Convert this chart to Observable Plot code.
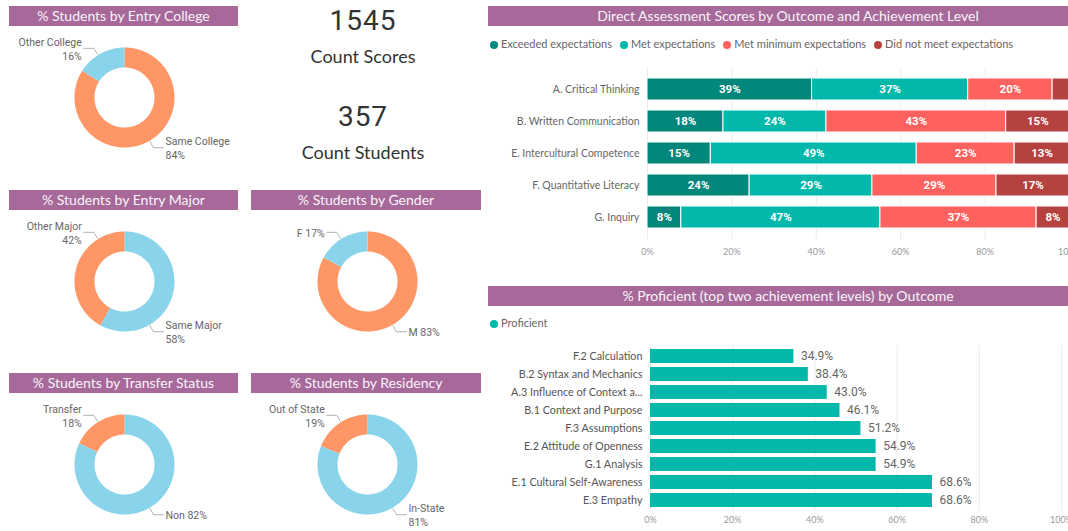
<!DOCTYPE html>
<html><head><meta charset="utf-8">
<script src="https://cdn.jsdelivr.net/npm/d3@7"></script>
<script src="https://cdn.jsdelivr.net/npm/@observablehq/plot@0.6"></script>
<style>
html,body{margin:0;padding:0;background:#fff;overflow:hidden;width:1068px;height:531px;}
#root{position:relative;width:1068px;height:531px;overflow:hidden;font-family:"Segoe UI",Lato,sans-serif;}
#root svg{max-width:none !important;overflow:visible;}
.tb{position:absolute;height:20px;line-height:20px;background:#A66999;color:#fbf3f9;text-align:center;font-size:14px;white-space:nowrap;overflow:hidden;}
.box{position:absolute;}
.num{position:absolute;left:263px;width:200px;text-align:center;color:#333;white-space:nowrap;}
.big{font-family:Roboto,sans-serif;font-size:28px;line-height:28px;letter-spacing:1px;}
.cap{font-family:"Segoe UI",Lato,sans-serif;font-size:18px;line-height:18px;}
.legend{position:absolute;font-size:11px;color:#666;white-space:nowrap;line-height:14px;}
.legend span{margin-right:8px;}
.legend i{display:inline-block;width:8px;height:8px;border-radius:50%;margin-right:3px;vertical-align:-0.5px;}
g[aria-label^="x-axis"] text{fill:#9a9a9a;font-size:9px;}
</style>
</head><body>
<div id="root"></div>
<script>
// ---------- data ----------
const collegeLabels = ["Same College", "Other College"];
const collegeValues = [0.84, 0.16];
const majorLabels = ["Same Major", "Other Major"];
const majorValues = [0.58, 0.42];
const genderLabels = ["M", "F"];
const genderValues = [0.83, 0.17];
const transferLabels = ["Non", "Transfer"];
const transferValues = [0.82, 0.18];
const residencyLabels = ["In-State", "Out of State"];
const residencyValues = [0.81, 0.19];

const countScores = 1545;
const countStudents = 357;

const outcomes = ["A. Critical Thinking", "B. Written Communication", "E. Intercultural Competence", "F. Quantitative Literacy", "G. Inquiry"];
const levels = ["Exceeded expectations", "Met expectations", "Met minimum expectations", "Did not meet expectations"];
const exceeded = [0.39, 0.18, 0.15, 0.242, 0.08];
const met = [0.37, 0.244, 0.488, 0.291, 0.472];
const metMin = [0.20, 0.426, 0.232, 0.294, 0.37];
const didNot = [0.04, 0.15, 0.13, 0.173, 0.078];

const subOutcomes = ["F.2 Calculation", "B.2 Syntax and Mechanics", "A.3 Influence of Context a...", "B.1 Context and Purpose", "F.3 Assumptions", "E.2 Attitude of Openness", "G.1 Analysis", "E.1 Cultural Self-Awareness", "E.3 Empathy"];
const proficient = [0.349, 0.384, 0.430, 0.461, 0.512, 0.549, 0.549, 0.686, 0.686];

const titles = {
  college: "% Students by Entry College",
  major: "% Students by Entry Major",
  gender: "% Students by Gender",
  transfer: "% Students by Transfer Status",
  residency: "% Students by Residency",
  direct: "Direct Assessment Scores by Outcome and Achievement Level",
  prof: "% Proficient (top two achievement levels) by Outcome"
};

// ---------- styles ----------
const ORANGE = "#FE9666", BLUE = "#8AD4EB";
const levelColors = ["#03867B", "#01B8AA", "#FD625E", "#B5423F"];
const TEAL = "#01B8AA";
const pct0 = d3.format(".0%"), pct1 = d3.format(".1%");

const root = document.getElementById("root");
function place(el, left, top, width) {
  const d = document.createElement("div");
  d.className = "box";
  d.style.left = left + "px"; d.style.top = top + "px";
  if (width) d.style.width = width + "px";
  d.appendChild(el);
  root.appendChild(d);
  return d;
}
function titleBar(text, left, top, width) {
  const d = document.createElement("div");
  d.className = "tb";
  d.style.left = left + "px"; d.style.top = top + "px"; d.style.width = width + "px";
  d.textContent = text;
  root.appendChild(d);
}
function numText(text, cls, top) {
  const d = document.createElement("div");
  d.className = "num " + cls;
  d.style.top = top + "px";
  d.textContent = text;
  root.appendChild(d);
}

// ---------- donut ----------
function donutPlot(labels, values, colors) {
  const total = d3.sum(values);
  const slices = [];
  let acc = 0;
  labels.forEach((name, i) => {
    const a0 = acc / total * 2 * Math.PI;
    acc += values[i];
    const a1 = acc / total * 2 * Math.PI;
    slices.push({name, value: values[i], a0, a1});
  });
  const R = 1, r = 0.6, stepA = Math.PI / 180;
  const ring = [];
  for (const s of slices) {
    const n = Math.max(2, Math.ceil((s.a1 - s.a0) / stepA));
    for (let k = 0; k <= n; k++) {
      const a = s.a0 + (s.a1 - s.a0) * k / n;
      ring.push({name: s.name, x: R * Math.sin(a), y: R * Math.cos(a)});
    }
    for (let k = n; k >= 0; k--) {
      const a = s.a0 + (s.a1 - s.a0) * k / n;
      ring.push({name: s.name, x: r * Math.sin(a), y: r * Math.cos(a)});
    }
  }
  const leaders = [], texts = [];
  for (const s of slices) {
    const mid = (s.a0 + s.a1) / 2;
    const pref = (Math.sin(mid) >= 0 ? 150 : 328) * Math.PI / 180;
    const th = Math.max(s.a0 + 0.05, Math.min(s.a1 - 0.05, pref));
    const side = Math.sin(th) >= 0 ? 1 : -1;
    const p0 = [1.02 * Math.sin(th), 1.02 * Math.cos(th)];
    const p1 = [1.16 * Math.sin(th), 1.16 * Math.cos(th)];
    const p2 = [p1[0] + side * 0.2, p1[1]];
    for (const p of [p0, p1, p2]) leaders.push({name: s.name, x: p[0], y: p[1]});
    const share = pct0(s.value / total);
    texts.push({
      side, x: p2[0] + side * 0.04, y: p2[1],
      text: s.name.length > 3 ? s.name + "\n" + share : s.name + " " + share
    });
  }
  return Plot.plot({
    width: 230, height: 130, margin: 0,
    x: {domain: [-2.3, 2.3], axis: null},
    y: {domain: [-1.3, 1.3], axis: null},
    color: {domain: labels, range: colors},
    style: {fontFamily: "Roboto, sans-serif", fontSize: "10.5px", background: "transparent", overflow: "visible"},
    marks: [
      Plot.line(ring, {x: "x", y: "y", z: "name", fill: "name", stroke: "none", curve: "linear-closed"}),
      Plot.line(leaders, {x: "x", y: "y", z: "name", stroke: "#b0b0b0", strokeWidth: 1}),
      Plot.text(texts.filter(t => t.side > 0), {x: "x", y: "y", text: "text", textAnchor: "start", fill: "#666", lineHeight: 1.3}),
      Plot.text(texts.filter(t => t.side < 0), {x: "x", y: "y", text: "text", textAnchor: "end", fill: "#666", lineHeight: 1.3})
    ]
  });
}

// ---------- left column ----------
titleBar(titles.college, 9, 6, 229);
place(donutPlot(collegeLabels, collegeValues, [ORANGE, BLUE]), 9, 32, 230);

numText(String(countScores), "big", 7);
numText("Count Scores", "cap", 47);
numText(String(countStudents), "big", 103);
numText("Count Students", "cap", 143);

titleBar(titles.major, 9, 190, 229);
place(donutPlot(majorLabels, majorValues, [BLUE, ORANGE]), 9, 216, 230);
titleBar(titles.gender, 251, 190, 230);
place(donutPlot(genderLabels, genderValues, [ORANGE, BLUE]), 252, 216, 230);

titleBar(titles.transfer, 9, 373, 229);
place(donutPlot(transferLabels, transferValues, [BLUE, ORANGE]), 9, 399, 230);
titleBar(titles.residency, 251, 373, 230);
place(donutPlot(residencyLabels, residencyValues, [BLUE, ORANGE]), 252, 399, 230);

// ---------- direct assessment (stacked) ----------
titleBar(titles.direct, 488, 6, 600);
const lg = document.createElement("div");
lg.className = "legend";
lg.style.left = "490px"; lg.style.top = "37px";
levels.forEach((l, i) => {
  const s = document.createElement("span");
  const dot = document.createElement("i");
  dot.style.background = levelColors[i];
  s.appendChild(dot);
  s.appendChild(document.createTextNode(l));
  lg.appendChild(s);
});
root.appendChild(lg);

const levelValues = [exceeded, met, metMin, didNot];
const stackData = [];
outcomes.forEach((o, i) => levels.forEach((l, j) => stackData.push({outcome: o, level: l, value: levelValues[j][i]})));
const xticks = [0, 0.2, 0.4, 0.6, 0.8, 1];

const direct = Plot.plot({
  width: 601, height: 210,
  marginLeft: 159, marginRight: 20, marginTop: 7, marginBottom: 30,
  x: {domain: [0, 1], ticks: xticks, tickFormat: pct0, tickSize: 0, tickPadding: 8, label: null},
  y: {domain: outcomes, padding: 0.3, tickSize: 0, tickPadding: 8, label: null},
  color: {domain: levels, range: levelColors},
  style: {fontFamily: "'Segoe UI', Lato, sans-serif", fontSize: "10.5px", color: "#666", background: "transparent", overflow: "visible"},
  marks: [
    Plot.ruleX(xticks, {stroke: "#ececec"}),
    Plot.barX(stackData, {x: "value", y: "outcome", fill: "level", stroke: "white", strokeWidth: 1}),
    Plot.text(stackData, Plot.stackX({
      x: "value", y: "outcome", z: "level",
      text: d => d.value >= 0.06 ? pct0(d.value) : "",
      fill: "white", fontWeight: "bold", fontFamily: "Roboto, sans-serif", fontSize: 11.5
    }))
  ]
});
place(direct, 488, 60, 601);

// ---------- proficient ----------
titleBar(titles.prof, 488, 286, 600);
const lg2 = document.createElement("div");
lg2.className = "legend";
lg2.style.left = "490px"; lg2.style.top = "316px";
{
  const s = document.createElement("span");
  const dot = document.createElement("i");
  dot.style.background = TEAL;
  s.appendChild(dot);
  s.appendChild(document.createTextNode("Proficient"));
  lg2.appendChild(s);
}
root.appendChild(lg2);

const profData = subOutcomes.map((name, i) => ({name, value: proficient[i]}));
const prof = Plot.plot({
  width: 600, height: 201,
  marginLeft: 162, marginRight: 27, marginTop: 10, marginBottom: 25,
  x: {domain: [0, 1], ticks: xticks, tickFormat: pct0, tickSize: 0, tickPadding: 5, label: null},
  y: {domain: subOutcomes, padding: 0.22, tickSize: 0, tickPadding: 8, label: null},
  style: {fontFamily: "'Segoe UI', Lato, sans-serif", fontSize: "10.8px", color: "#555", background: "transparent", overflow: "visible"},
  marks: [
    Plot.ruleX(xticks, {stroke: "#ececec"}),
    Plot.barX(profData, {x: "value", y: "name", fill: TEAL}),
    Plot.text(profData, {x: "value", y: "name", text: d => pct1(d.value), textAnchor: "start", dx: 7, fill: "#666", fontFamily: "Roboto, sans-serif", fontSize: 12})
  ]
});
place(prof, 488, 335, 600);
</script>
</body></html>
